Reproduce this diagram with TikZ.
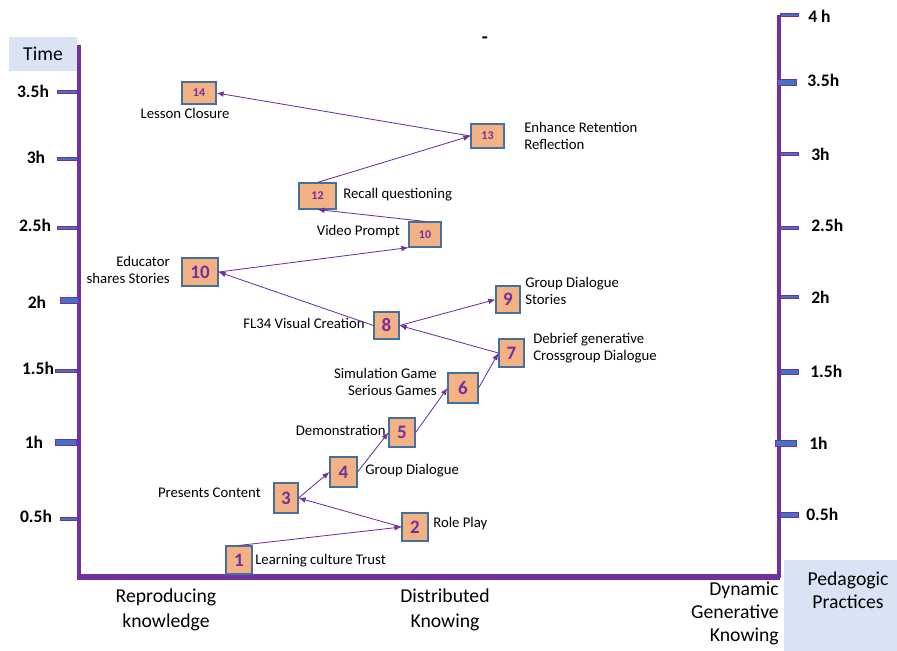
\documentclass[tikz,border=0pt]{standalone}
\usepackage{fontspec}
\setmainfont{Carlito}
\usetikzlibrary{arrows.meta, positioning}

\definecolor{axispurple}{HTML}{7030A0}
\definecolor{boxorange}{HTML}{F4B183}
\definecolor{boxedge}{HTML}{41719C}
\definecolor{tickblue}{HTML}{4472C4}
\definecolor{panelblue}{HTML}{DAE3F3}

\tikzset{
  stagebox/.style={draw=boxedge, fill=boxorange, line width=0.8pt, inner sep=0pt,
    minimum width=0.65cm, minimum height=0.7cm, text=axispurple,
    font=\fontsize{13.5}{13.5}\selectfont\bfseries},
  smallbox/.style={stagebox, font=\fontsize{8.5}{8.5}\selectfont\bfseries},
  lbl/.style={inner sep=0pt, font=\fontsize{10.5}{12.5}\selectfont},
  axislbl/.style={inner sep=0pt, align=center, font=\fontsize{14}{17.5}\selectfont},
  timelbl/.style={inner sep=0pt, font=\fontsize{12.5}{12.5}\selectfont\bfseries},
  panel/.style={fill=panelblue, inner sep=0pt},
  flow/.style={axispurple, line width=0.6pt, -{Latex[length=5pt,width=4pt]}},
  tickmark/.style={draw=axispurple, fill=tickblue, line width=0.5pt},
}

\begin{document}
\begin{tikzpicture}[x=0.025cm, y=-0.025cm]
    \useasboundingbox (0,0) rectangle (897,651);

    % Draw axes
    \draw[axispurple, line width=2.8pt] (79,45) -- (79,578); % time axis left
    \draw[axispurple, line width=4.2pt] (77,577) -- (780,577); % practices axis
    \draw[axispurple, line width=2.8pt] (779,578) -- (779,15); % time axis right

    % Left ticks: x from / x to / y / half thickness / label x / label y
    \foreach \xa/\xb/\y/\h/\lx/\ly/\t [count=\i] in {57/77/92/1.5/33/91/3.5h, 57/77/159/1.5/36/157/3h,
        57/77/228/1.5/35/225/2.5h, 60/78/300/3/37/302/2h, 55/76/371/1.5/38/368/1.5h,
        55/76/442/3/34/442/1h, 60/77/519/1.5/36/516/0.5h} {
        \filldraw[tickmark] (\xa,\y-\h) rectangle (\xb,\y+\h);
        \node[timelbl] (lt\i) at (\lx,\ly) {\t};
    }

    % Right ticks
    \foreach \xa/\xb/\y/\h/\lx/\ly/\t [count=\i] in {780/798/15/1.5/808/16/4 h, 777/796/82/3/807/80/3.5h,
        780/798/154/1.5/811/154/3h, 780/798/228/1.5/811/225/2.5h, 780/798/297/1.5/811/297/2h,
        780/798/372/2.5/810/371/1.5h, 775/796/443/3/809/443/1h, 780/798/515/2.5/806/514/0.5h} {
        \filldraw[tickmark] (\xa,\y-\h) rectangle (\xb,\y+\h);
        \node[timelbl, anchor=west] (rt\i) at (\lx,\ly) {\t};
    }

    % Panels and axis titles
    \node[panel, minimum width=1.7cm, minimum height=0.85cm] (timebox) at (43,54) {};
    \node[axislbl] (timetxt) at (43,54) {Time};
    \node[panel, minimum width=2.825cm, minimum height=2.275cm] (pedbox) at (840.5,605.5) {};
    \node[axislbl, font=\fontsize{14}{16.5}\selectfont] (pedtxt) at (848,590) {Pedagogic\\Practices};
    \node[axislbl] (repro) at (166,610) {Reproducing\\knowledge};
    \node[axislbl] (distrib) at (445,610) {Distributed\\Knowing};
    \node[axislbl, align=right, anchor=east, font=\fontsize{14}{16.3}\selectfont] (dynamic) at (779,613) {Dynamic\\Generative\\Knowing};
    \node[inner sep=0pt, font=\fontsize{14}{14}\selectfont\bfseries] (dash) at (485,40) {-};

    % Stages
    \node[stagebox] (n1) at (239,560) {1};
    \node[stagebox] (n2) at (415,527) {2};
    \node[stagebox, minimum width=0.6cm, minimum height=0.75cm] (n3) at (286,498) {3};
    \node[stagebox, minimum width=0.675cm, minimum height=0.75cm] (n4) at (343.5,472) {4};
    \node[stagebox, minimum height=0.725cm] (n5) at (402,432.5) {5};
    \node[stagebox, minimum width=0.75cm, minimum height=0.75cm] (n6) at (463,388) {6};
    \node[stagebox, minimum width=0.625cm] (n7) at (511.5,353) {7};
    \node[stagebox, minimum width=0.625cm, minimum height=0.675cm] (n8) at (386.5,325.5) {8};
    \node[stagebox, minimum width=0.6cm, minimum height=0.675cm] (n9) at (508,299.5) {9};
    \node[stagebox, minimum width=0.9cm] (n10) at (200,272) {10};
    \node[smallbox, minimum width=0.8cm, minimum height=0.625cm] (n10s) at (425,234.5) {10};
    \node[smallbox, minimum width=0.925cm, minimum height=0.65cm] (n12) at (317.5,196) {12};
    \node[smallbox, minimum width=0.825cm, minimum height=0.6cm] (n13) at (487.5,136) {13};
    \node[smallbox, minimum width=0.85cm, minimum height=0.55cm] (n14) at (199,93) {14};

    % Stage labels
    \node[lbl, anchor=west] (l1) at (255,561) {Learning culture Trust};
    \node[lbl, anchor=west] (l2) at (433,524) {Role Play};
    \node[lbl, anchor=east] (l3) at (261,493) {Presents Content};
    \node[lbl, anchor=west] (l4) at (365,471) {Group Dialogue};
    \node[lbl, anchor=east] (l5) at (386,430) {Demonstration};
    \node[lbl, anchor=east, align=right] (l6) at (437,382) {Simulation Game\\Serious Games};
    \node[lbl, anchor=west, align=left] (l7) at (533,348) {Debrief generative\\Crossgroup Dialogue};
    \node[lbl, anchor=east] (l8) at (365,323) {FL34 Visual Creation};
    \node[lbl, anchor=west, align=left] (l9) at (525,291) {Group Dialogue\\Stories};
    \node[lbl, anchor=east, align=right] (l10) at (170,270) {Educator\\shares Stories};
    \node[lbl, anchor=east] (l10s) at (400,232) {Video Prompt};
    \node[lbl, anchor=west] (l12) at (343,195) {Recall questioning};
    \node[lbl, anchor=west, align=left] (l13) at (524,136) {Enhance Retention\\Reflection};
    \node[lbl] (l14) at (185,113) {Lesson Closure};

    % Flow between stages
    \draw[flow] (n1.north) -- (n2.west);
    \draw[flow] (n2.west) -- (n3.east);
    \draw[flow] (n3.east) -- (n4.west);
    \draw[flow] (n4.east) -- (n5.west);
    \draw[flow] (n5.east) -- (n6.west);
    \draw[flow] (n6.east) -- (n7.west);
    \draw[flow] (n7.west) -- (n8.east);
    \draw[flow] (n8.east) -- (n9.west);
    \draw[flow] (n8.west) -- (n10.east);
    \draw[flow] (n10.east) -- (n10s.south west);
    \draw[flow] (n10s.north) -- (n12.south);
    \draw[flow] (n12.north) -- (n13.west);
    \draw[flow] (n13.west) -- (n14.east);

\end{tikzpicture}
\end{document}
